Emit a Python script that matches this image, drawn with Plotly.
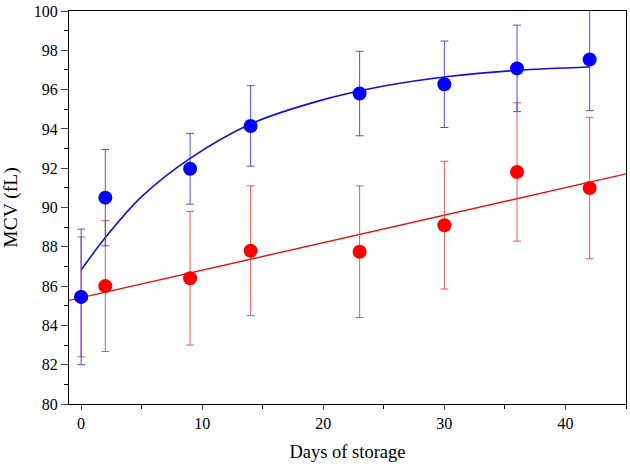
import plotly.graph_objects as go

days = [0, 2, 9, 14, 23, 30, 36, 42]
blue_mean = [85.45, 90.5, 91.97, 94.15, 95.8, 96.27, 97.08, 97.53]
blue_sd = [3.45, 2.45, 1.8, 2.05, 2.15, 2.2, 2.2, 2.6]
red_mean = [85.45, 86.0, 86.4, 87.8, 87.75, 89.1, 91.81, 90.99]
red_sd = [3.05, 3.33, 3.4, 3.3, 3.35, 3.25, 3.52, 3.6]

blue_fit_x = [0, 2, 5, 9, 14, 19.5, 25, 30.5, 36, 42]
blue_fit_y = [86.82, 88.47, 90.55, 92.5, 94.25, 95.4, 96.18, 96.68, 96.98, 97.15]
red_fit_x = [-1, 45]
red_fit_y = [85.27, 91.71]

x_ticks = [0, 10, 20, 30, 40]
y_ticks = [80, 82, 84, 86, 88, 90, 92, 94, 96, 98, 100]

BLUE = "#0000ff"
RED = "#ff0000"
font_family = "Liberation Serif, Times New Roman, serif"

fig = go.Figure()
fig.add_trace(go.Scatter(x=blue_fit_x, y=blue_fit_y, mode="lines",
                         line=dict(color="#1010d0", width=1.6, shape="spline", smoothing=0.9),
                         showlegend=False, hoverinfo="skip"))
fig.add_trace(go.Scatter(x=red_fit_x, y=red_fit_y, mode="lines",
                         line=dict(color="#e81010", width=1.4),
                         showlegend=False, hoverinfo="skip"))
fig.add_trace(go.Scatter(x=days, y=red_mean, mode="markers",
                         marker=dict(color=RED, size=14),
                         error_y=dict(type="data", array=red_sd, visible=True,
                                      color="rgba(230,60,60,0.85)", thickness=1, width=4),
                         showlegend=False))
fig.add_trace(go.Scatter(x=days, y=blue_mean, mode="markers",
                         marker=dict(color=BLUE, size=14),
                         error_y=dict(type="data", array=blue_sd, visible=True,
                                      color="rgba(50,50,220,0.85)", thickness=1, width=4),
                         showlegend=False))

fig.update_layout(
    width=630, height=464,
    margin=dict(l=69, r=3, t=9, b=60),
    paper_bgcolor="white", plot_bgcolor="white",
    font=dict(family=font_family, size=16, color="black"),
    xaxis=dict(range=[-1, 45], tickvals=x_ticks, ticks="outside", ticklen=5,
               tickwidth=1.2, showline=True, linecolor="black", linewidth=1.3,
               mirror=True, showgrid=False, zeroline=False,
               minor=dict(dtick=5, ticks="outside", ticklen=4, tickwidth=1.2, tickcolor="black"),
               title=dict(text="Days of storage", font=dict(size=18.5), standoff=13),
               tickfont=dict(size=16)),
    yaxis=dict(range=[80, 100], tickvals=y_ticks, ticks="outside", ticklen=7,
               tickwidth=1.2, showline=True, linecolor="black", linewidth=1.3,
               mirror=True, showgrid=False, zeroline=False,
               minor=dict(dtick=1, ticks="outside", ticklen=4, tickwidth=1.2, tickcolor="black"),
               title=dict(text="MCV (fL)", font=dict(size=19.5), standoff=17),
               tickfont=dict(size=16)),
)

fig.write_html("out.html", config={"displayModeBar": False},
               post_script="document.body.style.margin='0';")
